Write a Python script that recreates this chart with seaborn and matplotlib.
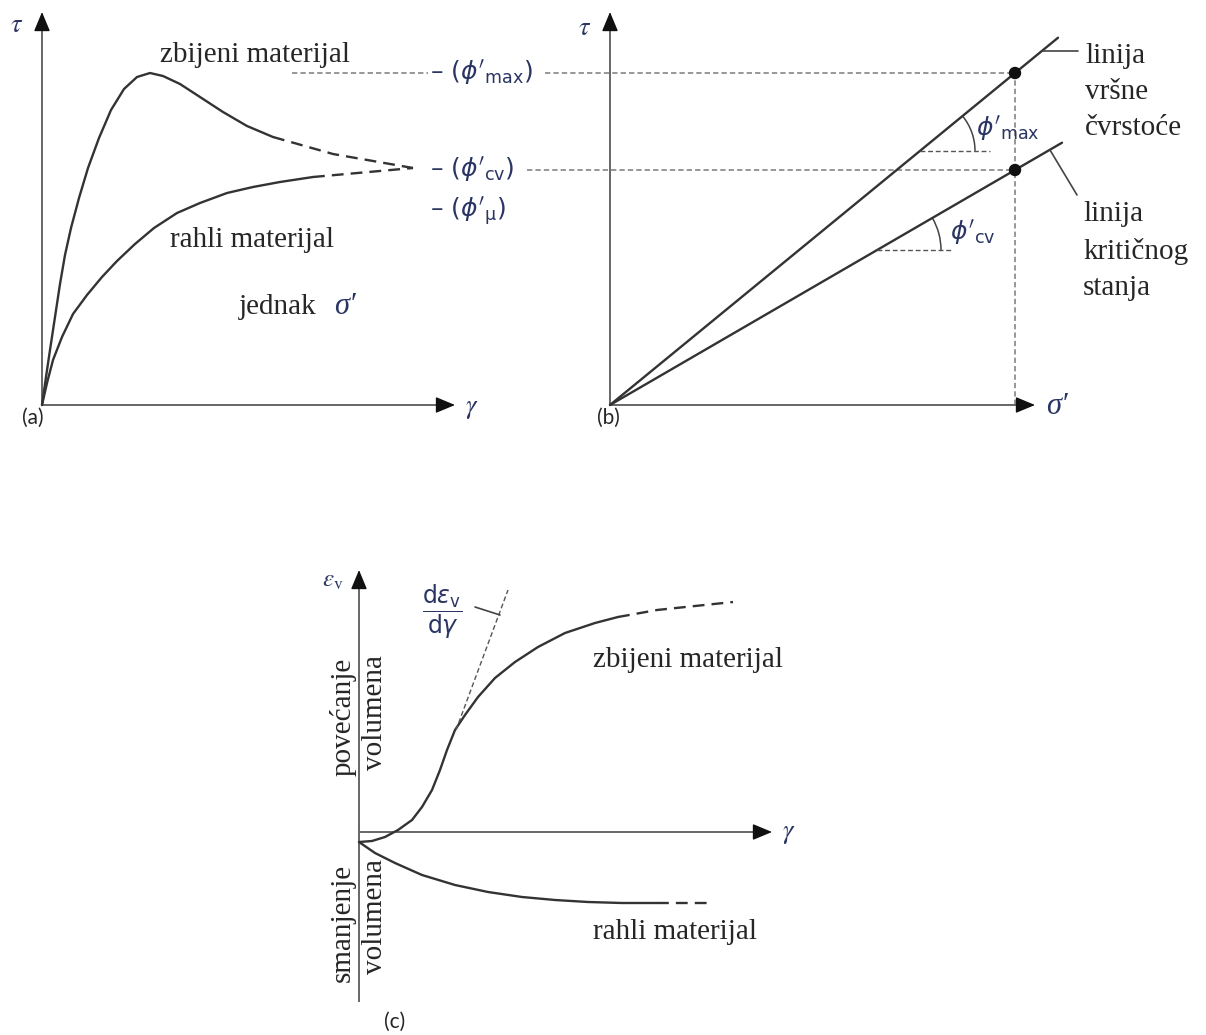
import numpy as np
import matplotlib.pyplot as plt
from matplotlib.patches import Arc
import seaborn as sns

# ---- panel (a): tau vs gamma (schematic units) ----
gamma_dense = [0, 0.04, 0.08, 0.13, 0.18, 0.23, 0.29, 0.37, 0.46, 0.57, 0.69, 0.82, 0.95,
               1.08, 1.21, 1.38, 1.58, 1.81, 2.05, 2.31]
tau_dense = [0, 0.28, 0.55, 0.88, 1.21, 1.50, 1.77, 2.07, 2.37, 2.67, 2.95, 3.16, 3.28,
             3.32, 3.29, 3.21, 3.08, 2.93, 2.79, 2.68]
gamma_dense_tail = [2.31, 2.91, 3.71]
tau_dense_tail = [2.68, 2.51, 2.37]

gamma_loose = [0, 0.05, 0.11, 0.20, 0.31, 0.45, 0.60, 0.75, 0.93, 1.12, 1.35, 1.58, 1.85,
               2.11, 2.38, 2.71]
tau_loose = [0, 0.22, 0.45, 0.68, 0.91, 1.10, 1.28, 1.44, 1.61, 1.77, 1.92, 2.02, 2.12,
             2.18, 2.23, 2.28]
gamma_loose_tail = [2.71, 3.71]
tau_loose_tail = [2.28, 2.37]

# ---- panel (b): strength envelopes ----
sigma_dot = 4.05
tau_peak = 3.32
tau_cv = 2.35
sigma_line_end = [4.48, 4.52]

# ---- panel (c): volumetric strain vs gamma ----
gamma_c_dense = [0, 0.13, 0.26, 0.39, 0.53, 0.63, 0.73, 0.81, 0.88, 0.96, 1.06, 1.19, 1.36,
                 1.56, 1.79, 2.06, 2.36, 2.59]
eps_c_dense = [-0.10, -0.09, -0.05, 0.02, 0.12, 0.25, 0.42, 0.62, 0.82, 1.02, 1.17, 1.35, 1.54,
               1.70, 1.85, 1.99, 2.09, 2.15]
gamma_c_dense_tail = [2.59, 2.98, 3.74]
eps_c_dense_tail = [2.15, 2.22, 2.30]

gamma_c_loose = [0, 0.16, 0.36, 0.63, 0.96, 1.29, 1.63, 1.96, 2.29, 2.63, 2.98]
eps_c_loose = [-0.10, -0.21, -0.31, -0.43, -0.53, -0.60, -0.65, -0.68, -0.70, -0.71, -0.71]
gamma_c_loose_tail = [2.98, 3.51]
eps_c_loose_tail = [-0.71, -0.71]

tangent_gamma = [0.97, 1.49]
tangent_eps = [1.02, 2.42]

sns.set_style('white')
serif = 'Liberation Serif'
sans = 'Lato'
navy = '#2a3563'
curve_col = '#333333'
axis_col = '#666666'
ref_col = '#7a7a7a'

W, H = 1206, 1035
S = 100.0
fig = plt.figure(figsize=(W / 100, H / 100), dpi=100)


def make_panel(box, origin):
    x0, y0, w, h = box
    ox, oy = origin
    ax = fig.add_axes([x0 / W, 1 - (y0 + h) / H, w / W, h / H])
    ax.set_xlim((x0 - ox) / S, (x0 + w - ox) / S)
    ax.set_ylim((oy - y0 - h) / S, (oy - y0) / S)
    ax.axis('off')
    return ax


def axis_arrow(ax, x0, y0, x1, y1):
    # grey shaft, black head
    dx, dy = x1 - x0, y1 - y0
    n = np.hypot(dx, dy)
    bx, by = x1 - 0.12 * dx / n, y1 - 0.12 * dy / n
    ax.plot([x0, bx], [y0, by], color=axis_col, lw=1.4, solid_capstyle='butt')
    ax.annotate('', xy=(x1, y1), xytext=(bx, by),
                arrowprops=dict(arrowstyle='-|>,head_length=0.6,head_width=0.25',
                                color='#111111', lw=1.0, mutation_scale=20,
                                shrinkA=0, shrinkB=0))


def curve(ax, x, y, dashed=False, lw=1.7, color=curve_col):
    ls = (0, (5, 3)) if dashed else '-'
    sns.lineplot(x=x, y=y, ax=ax, color=color, lw=lw, linestyle=ls,
                 sort=False, estimator=None, legend=False)


def ref_line(ax, x, y, lw=1.1, color=ref_col):
    sns.lineplot(x=x, y=y, ax=ax, color=color, lw=lw, linestyle=(0, (3.5, 2)),
                 sort=False, estimator=None, legend=False)


def sym(ax, x, y, s, size=19):
    ax.text(x, y, s, fontsize=size, color=navy, math_fontfamily='stix', ha='center', va='center')


def sigma_prime(ax, x, y):
    ax.text(x, y, 'σ′', fontsize=22, color=navy, family=serif, style='italic', ha='center', va='center')


# ================= panel (a) =================
ax_a = make_panel((0, 0, 570, 440), (42, 405))
axis_arrow(ax_a, 0, 0, 0, 3.93)
axis_arrow(ax_a, 0, 0, 4.13, 0)
curve(ax_a, gamma_dense, tau_dense)
curve(ax_a, gamma_dense_tail, tau_dense_tail, dashed=True)
curve(ax_a, gamma_loose, tau_loose)
curve(ax_a, gamma_loose_tail, tau_loose_tail, dashed=True)
ref_line(ax_a, [2.50, 3.86], [tau_peak, tau_peak])

sym(ax_a, -0.25, 3.80, r'$\tau$')
sym(ax_a, 4.30, -0.03, r'$\gamma$')
ax_a.text(2.13, 3.50, 'zbijeni materijal', fontsize=21, family=serif, ha='center', va='center')
ax_a.text(2.10, 1.65, 'rahli materijal', fontsize=21, family=serif, ha='center', va='center')
ax_a.text(2.36, 0.98, 'jednak', fontsize=21, family=serif, ha='center', va='center')
sigma_prime(ax_a, 3.03, 0.98)
for lvl, sub in [(tau_peak, 'max'), (tau_cv, 'cv'), (1.93, r'\mu')]:
    ax_a.text(3.88, lvl, r"– ($\phi'_{\mathrm{%s}}$)" % sub, fontsize=18, color=navy,
              math_fontfamily='dejavusans', ha='left', va='center')
ax_a.text(-0.09, -0.13, '(a)', fontsize=15, family=sans, ha='center', va='center')

# ================= panel (b) =================
ax_b = make_panel((500, 0, 706, 440), (610, 405))
ref_line(ax_b, [-0.65, sigma_dot], [tau_peak, tau_peak])
ref_line(ax_b, [-0.83, sigma_dot], [tau_cv, tau_cv])
ref_line(ax_b, [sigma_dot, sigma_dot], [0, tau_peak])
axis_arrow(ax_b, 0, 0, 0, 3.93)
axis_arrow(ax_b, 0, 0, 4.25, 0)

slopes = [tau_peak / sigma_dot, tau_cv / sigma_dot]
for k, slope in enumerate(slopes):
    curve(ax_b, [0, sigma_line_end[k]], [0, slope * sigma_line_end[k]], lw=1.7)
sns.scatterplot(x=[sigma_dot, sigma_dot], y=[tau_peak, tau_cv], ax=ax_b, color='#111111',
                s=80, edgecolor='none', zorder=5, legend=False)

# angle markers
for cx, r, ext, slope, lab, lx, ly in [(3.10, 0.55, 0.70, slopes[0], r"$\phi'_{\mathrm{max}}$", 3.98, 2.76),
                                         (2.67, 0.64, 0.75, slopes[1], r"$\phi'_{\mathrm{cv}}$", 3.63, 1.72)]:
    cy = slope * cx
    ref_line(ax_b, [cx, cx + ext], [cy, cy], lw=1.0, color='#555555')
    ax_b.add_patch(Arc((cx, cy), 2 * r, 2 * r, theta1=0, theta2=np.degrees(np.arctan(slope)),
                       color='#444444', lw=1.1))
    ax_b.text(lx, ly, lab, fontsize=18, color=navy, math_fontfamily='dejavusans', ha='center', va='center')

ax_b.plot([4.32, 4.68], [3.54, 3.54], color='#444444', lw=1.2)
ax_b.plot([4.40, 4.67], [2.55, 2.10], color='#444444', lw=1.2)
ax_b.text(4.75, 3.13, 'linija\nvršne\nčvrstoće', fontsize=21, family=serif, ha='left', va='center', linespacing=1.5)
ax_b.text(4.73, 1.54, 'linija\nkritičnog\nstanja', fontsize=21, family=serif, ha='left', va='center', linespacing=1.5)
sym(ax_b, -0.25, 3.77, r'$\tau$')
sigma_prime(ax_b, 4.47, -0.01)
ax_b.text(-0.02, -0.13, '(b)', fontsize=15, family=sans, ha='center', va='center')

# ================= panel (c) =================
ax_c = make_panel((270, 545, 640, 490), (359, 832))
axis_arrow(ax_c, 0, -1.70, 0, 2.62)
axis_arrow(ax_c, 0, 0, 4.13, 0)
curve(ax_c, gamma_c_dense, eps_c_dense)
curve(ax_c, gamma_c_dense_tail, eps_c_dense_tail, dashed=True)
curve(ax_c, gamma_c_loose, eps_c_loose)
curve(ax_c, gamma_c_loose_tail, eps_c_loose_tail, dashed=True)
ref_line(ax_c, tangent_gamma, tangent_eps, lw=1.0, color='#555555')
ax_c.plot([1.16, 1.41], [2.25, 2.17], color='#444444', lw=1.2)
ax_c.text(0.83, 2.20, r'$\dfrac{\mathsf{d}\varepsilon_{\mathsf{v}}}{\mathsf{d}\gamma}$', fontsize=17,
          color=navy, math_fontfamily='dejavusans', ha='center', va='center')
sym(ax_c, -0.26, 2.52, r'$\varepsilon_{\mathrm{v}}$', size=18)
sym(ax_c, 4.30, -0.01, r'$\gamma$')
ax_c.text(3.29, 1.72, 'zbijeni materijal', fontsize=21, family=serif, ha='center', va='center')
ax_c.text(3.16, -1.00, 'rahli materijal', fontsize=21, family=serif, ha='center', va='center')
ax_c.text(-0.16, 1.15, 'povećanje', fontsize=21, family=serif, rotation=90, ha='center', va='center')
ax_c.text(0.16, 1.20, 'volumena', fontsize=21, family=serif, rotation=90, ha='center', va='center')
ax_c.text(-0.16, -0.91, 'smanjenje', fontsize=21, family=serif, rotation=90, ha='center', va='center')
ax_c.text(0.16, -0.85, 'volumena', fontsize=21, family=serif, rotation=90, ha='center', va='center')
ax_c.text(0.36, -1.90, '(c)', fontsize=15, family=sans, ha='center', va='center')

plt.savefig('out.png', dpi=100)
